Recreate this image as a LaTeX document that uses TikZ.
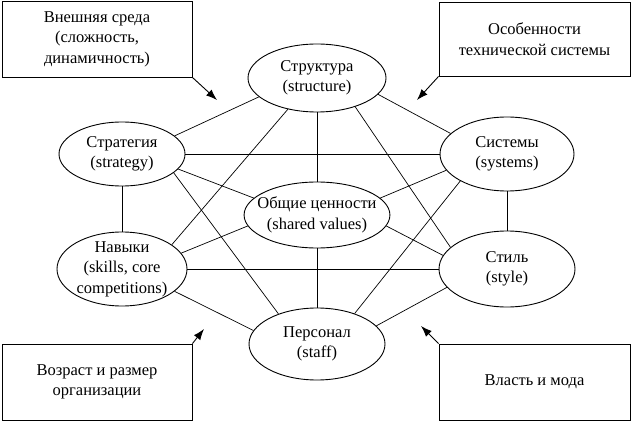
\documentclass[tikz,border=0pt]{standalone}
\usepackage{fontspec}
\setmainfont{Liberation Serif}
\usetikzlibrary{shapes.geometric,arrows.meta}
\begin{document}
\begin{tikzpicture}[x=1pt,y=-1pt,
  txt/.style={font=\fontsize{16.5}{20.5}\selectfont},
  ell/.style={ellipse,draw,line width=0.9pt,inner sep=-8pt,align=center,txt},
  ebox/.style={rectangle,draw,line width=0.9pt,inner sep=0pt,align=center,txt},
  link/.style={line width=0.7pt},
  arr/.style={line width=0.9pt,-{Latex[length=11pt,width=8pt]}}]
\useasboundingbox (0,0) rectangle (631,422);

% outer boxes
\node[ebox,minimum width=190pt,minimum height=76pt] (b1) at (97,39) {Внешняя среда\\(сложность,\\динамичность)};
\node[ebox,minimum width=191pt,minimum height=74pt] (b2) at (534.5,39) {Особенности\\технической системы};
\node[ebox,minimum width=190pt,minimum height=76pt] (b3) at (97,382) {Возраст и размер\\организации};
\node[ebox,minimum width=191pt,minimum height=76pt] (b4) at (534.5,382) {Власть и мода};

% ellipses
\node[ell,minimum width=138pt,minimum height=68pt] (str) at (317,78) {Структура\\(structure)};
\node[ell,minimum width=126pt,minimum height=64pt] (stg) at (122,154) {Стратегия\\(strategy)};
\node[ell,minimum width=134pt,minimum height=74pt] (sys) at (507,154) {Системы\\(systems)};
\node[ell,minimum width=136pt,minimum height=66pt] (sha) at (317,215) {Общие ценности\\(shared values)};
\node[ell,minimum width=130pt,minimum height=74pt] (ski) at (122,269) {Навыки\\(skills, core\\competitions)};
\node[ell,minimum width=136pt,minimum height=76pt] (sty) at (507,269) {Стиль\\(style)};
\node[ell,minimum width=136pt,minimum height=72pt] (sta) at (317,344) {Персонал\\(staff)};

% connectors
\draw[link] (stg.19) -- (str.198);
\draw[link] (stg) -- (sys);
\draw[link] (stg.-15) -- (sha.165);
\draw[link] (stg.-20) -- (sta.142);
\draw[link] (stg) -- (ski);
\draw[link] (ski.26) -- (str.227);
\draw[link] (ski.15) -- (sha.189);
\draw[link] (ski) -- (sty);
\draw[link] (ski.-23) -- (sta.168);
\draw[link] (sys.160) -- (str.-15);
\draw[link] (sys.195) -- (sha.15);
\draw[link] (sys.210) -- (sta.39);
\draw[link] (sys) -- (sty);
\draw[link] (sty.159) -- (str.-37);
\draw[link] (sty.168) -- (sha.-9);
\draw[link] (sty.197) -- (sta.17);
\draw[link] (str) -- (sha);
\draw[link] (sha) -- (sta);

% arrows
\coordinate (t1) at (217,100);
\coordinate (t2) at (417,100);
\coordinate (t3) at (204,329);
\coordinate (t4) at (421,326);
\draw[arr] (b1.south east) -- (t1);
\draw[arr] (b2.south west) -- (t2);
\draw[arr] (b3.north east) -- (t3);
\draw[arr] (b4.north west) -- (t4);
\end{tikzpicture}
\end{document}
